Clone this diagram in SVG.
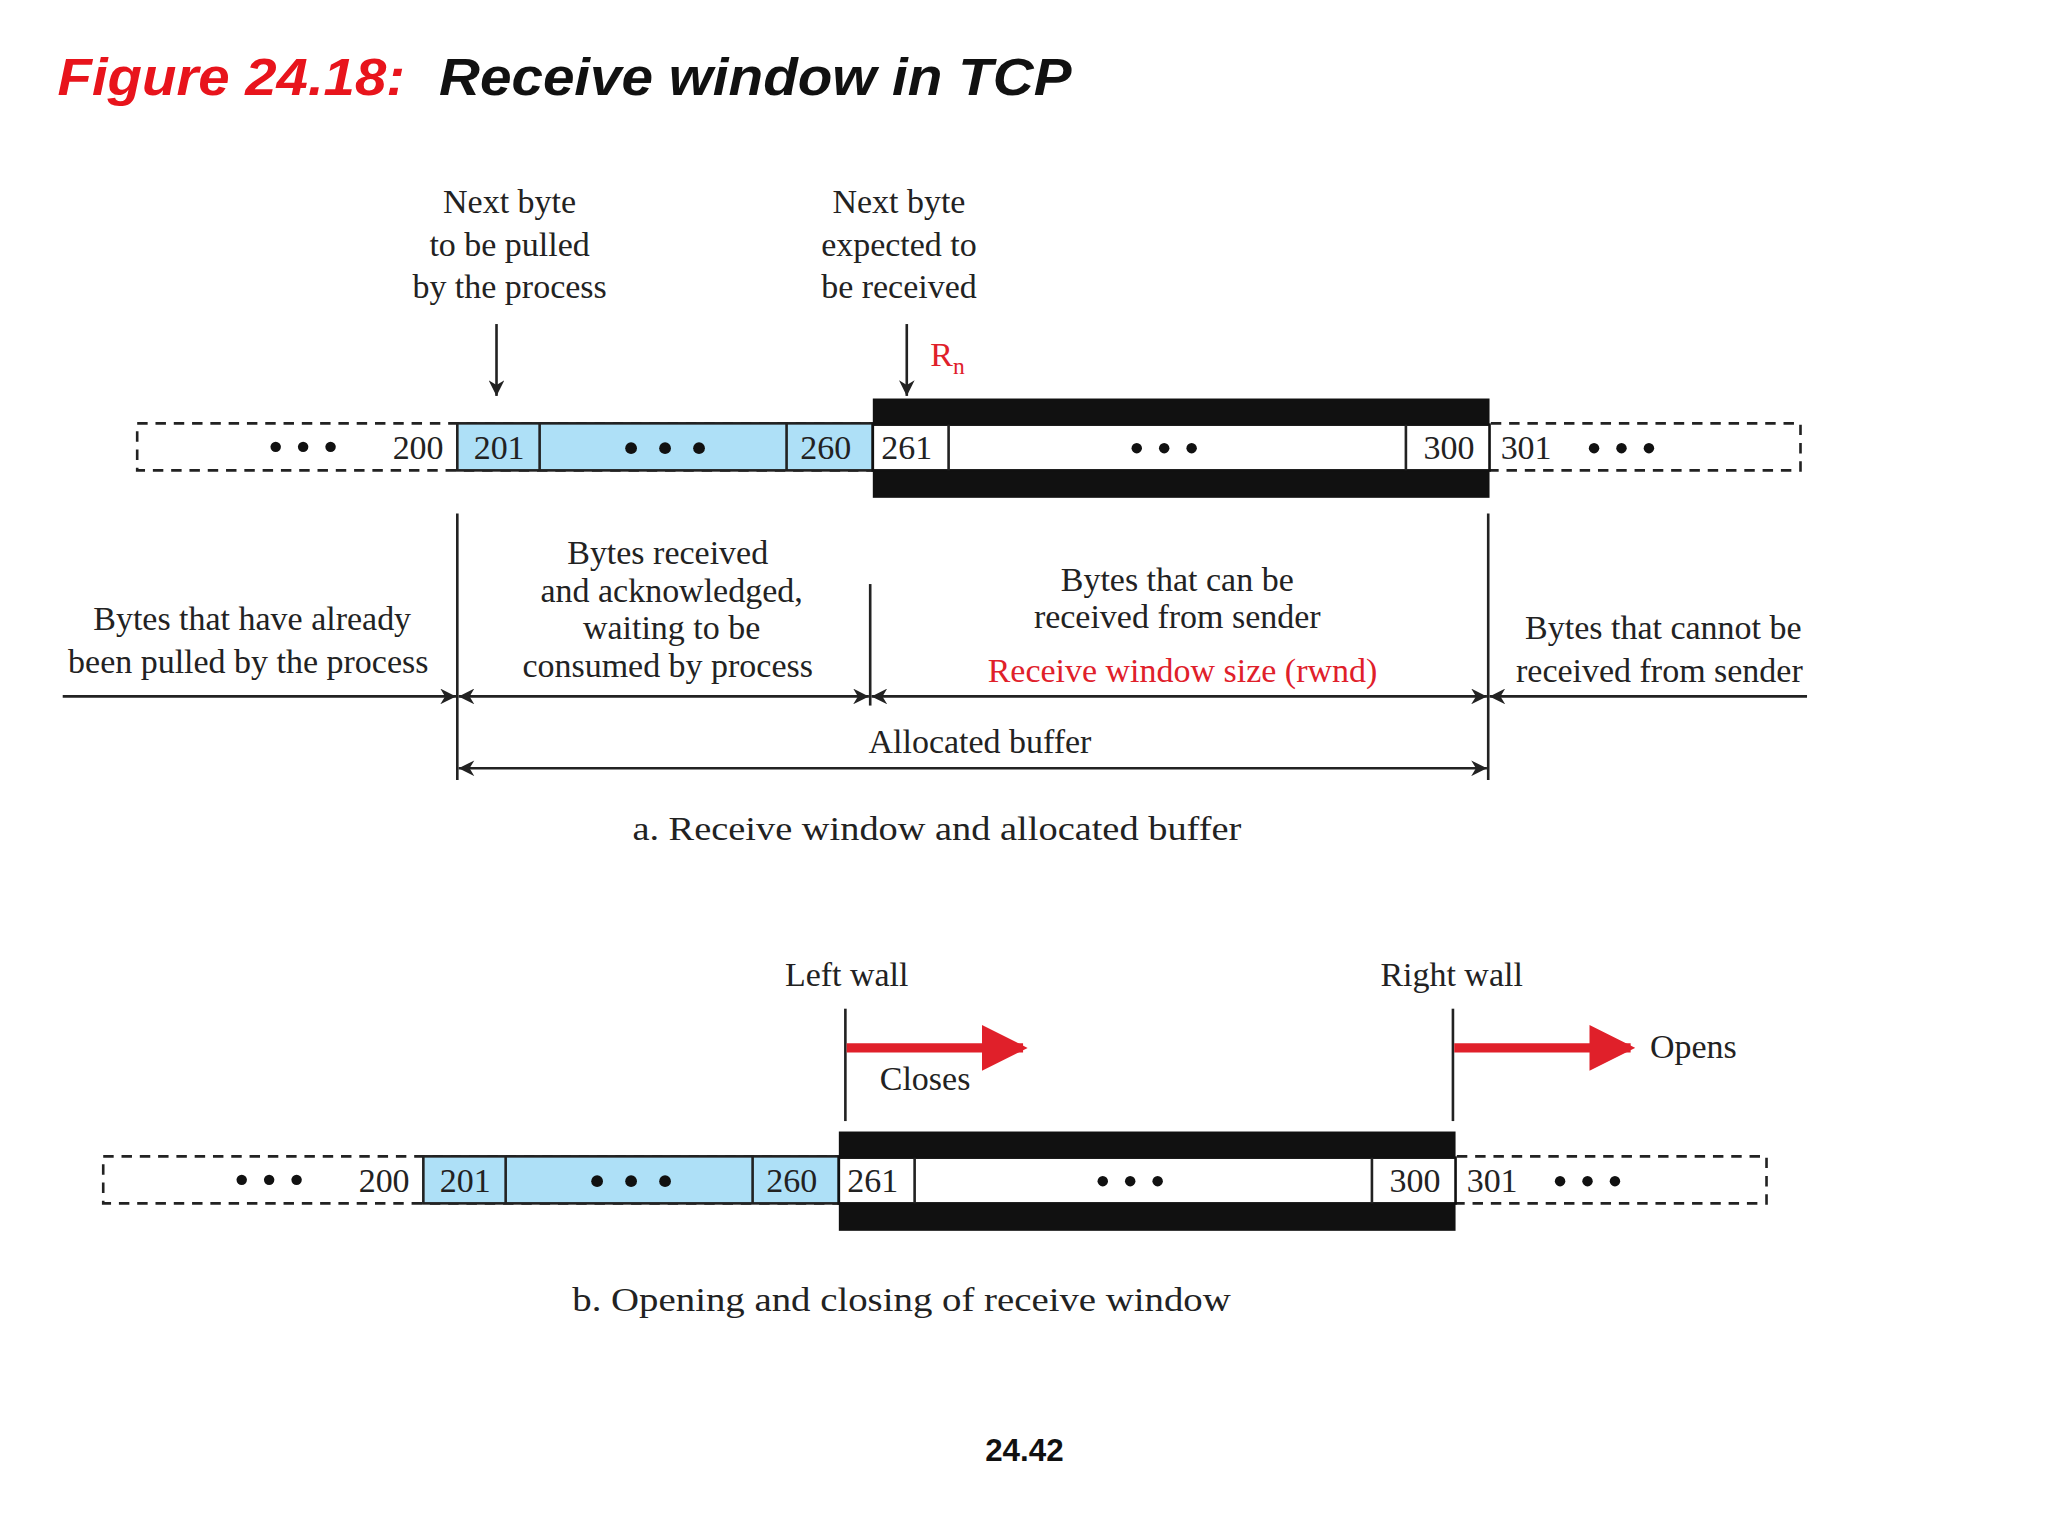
<svg xmlns="http://www.w3.org/2000/svg" xmlns:xlink="http://www.w3.org/1999/xlink" width="2048" height="1536" viewBox="0 0 2048 1536">
<style>
.t{font-family:"Liberation Serif","DejaVu Serif",serif;font-size:26px;fill:#222;text-anchor:middle}
.r{fill:#e0202a}
.ln{stroke:#222;stroke-width:2;fill:none}
.dash{stroke:#222;stroke-width:2;fill:none;stroke-dasharray:8 6}
</style>
<defs>
<marker id="ah" viewBox="0 0 10 10" refX="10" refY="5" markerWidth="16" markerHeight="12" markerUnits="userSpaceOnUse" orient="auto-start-reverse"><path d="M0,0 L10,5 L0,10 L3,5 z" fill="#222"/></marker>
<marker id="ra" viewBox="0 0 10 10" refX="9" refY="5" markerWidth="5" markerHeight="5" orient="auto"><path d="M0,0 L10,5 L0,10 z" fill="#e0202a"/></marker>
<g id="bar">
<rect x="105" y="324" width="1273" height="36" class="dash"/>
<rect x="350" y="324" width="318" height="36" fill="#aee0f7" stroke="#222" stroke-width="2"/>
<line x1="413" y1="324" x2="413" y2="360" class="ln"/>
<line x1="602" y1="324" x2="602" y2="360" class="ln"/>
<rect x="668" y="305" width="472" height="20" fill="#111"/>
<rect x="668" y="360" width="472" height="21" fill="#111"/>
<rect x="668" y="325" width="472" height="35" fill="#fff" stroke="#111" stroke-width="2"/>
<line x1="726" y1="325" x2="726" y2="360" class="ln"/>
<line x1="1076" y1="325" x2="1076" y2="360" class="ln"/>
<text class="t" x="320" y="351">200</text>
<text class="t" x="382" y="351">201</text>
<text class="t" x="632" y="351">260</text>
<text class="t" x="694" y="351">261</text>
<text class="t" x="1109" y="351">300</text>
<text class="t" x="1168" y="351">301</text>
<g fill="#111"><circle cx="211" cy="342" r="4"/><circle cx="232" cy="342" r="4"/><circle cx="253" cy="342" r="4"/>
<circle cx="483" cy="343" r="4.5"/><circle cx="509" cy="343" r="4.5"/><circle cx="535" cy="343" r="4.5"/>
<circle cx="870" cy="343" r="4"/><circle cx="891" cy="343" r="4"/><circle cx="912" cy="343" r="4"/>
<circle cx="1220" cy="343" r="4"/><circle cx="1241" cy="343" r="4"/><circle cx="1262" cy="343" r="4"/></g>
</g>
</defs>
<rect width="2048" height="1536" fill="#fff"/>
<g transform="scale(1.3066)">
<g id="title" font-family="'Liberation Sans',Arial,sans-serif" font-size="40" font-weight="bold" font-style="italic">
<text x="44" y="73" fill="#e8141c" textLength="266" lengthAdjust="spacingAndGlyphs">Figure 24.18:</text>
<text x="336" y="73" fill="#111" textLength="484" lengthAdjust="spacingAndGlyphs">Receive window in TCP</text>
</g>
<g id="part-a">
<use xlink:href="#bar" href="#bar"/>
<text class="t"><tspan x="390" y="163">Next byte</tspan><tspan x="390" y="196">to be pulled</tspan><tspan x="390" y="228">by the process</tspan></text>
<text class="t"><tspan x="688" y="163">Next byte</tspan><tspan x="688" y="196">expected to</tspan><tspan x="688" y="228">be received</tspan></text>
<text class="t r" x="712" y="280" style="text-anchor:start">R<tspan font-size="18" dy="6">n</tspan></text>
<text class="t"><tspan x="193" y="482">Bytes that have already</tspan><tspan x="190" y="515">been pulled by the process</tspan></text>
<text class="t"><tspan x="511" y="432">Bytes received</tspan><tspan x="514" y="461">and  acknowledged,</tspan><tspan x="514" y="489">waiting to be</tspan><tspan x="511" y="518">consumed by process</tspan></text>
<text class="t"><tspan x="901" y="452">Bytes that can be</tspan><tspan x="901" y="481">received from sender</tspan></text>
<text class="t r" x="905" y="522">Receive window size (rwnd)</text>
<text class="t"><tspan x="1273" y="489">Bytes that cannot be</tspan><tspan x="1270" y="522">received from sender</tspan></text>
<text class="t" x="750" y="576">Allocated buffer</text>
<text class="t" x="717" y="643" font-size="28" textLength="466" lengthAdjust="spacingAndGlyphs">a. Receive window and allocated buffer</text>
</g>
<g id="connectors">
<line x1="380" y1="248" x2="380" y2="303" class="ln" marker-end="url(#ah)"/>
<line x1="694" y1="248" x2="694" y2="303" class="ln" marker-end="url(#ah)"/>
<line x1="350" y1="393" x2="350" y2="597" class="ln"/>
<line x1="666" y1="447" x2="666" y2="540" class="ln"/>
<line x1="1139" y1="393" x2="1139" y2="597" class="ln"/>
<line x1="48" y1="533" x2="349" y2="533" class="ln" marker-end="url(#ah)"/>
<line x1="351" y1="533" x2="665" y2="533" class="ln" marker-start="url(#ah)" marker-end="url(#ah)"/>
<line x1="667" y1="533" x2="1138" y2="533" class="ln" marker-start="url(#ah)" marker-end="url(#ah)"/>
<line x1="1140" y1="533" x2="1383" y2="533" class="ln" marker-start="url(#ah)"/>
<line x1="351" y1="588" x2="1138" y2="588" class="ln" marker-start="url(#ah)" marker-end="url(#ah)"/>
<line x1="647" y1="772" x2="647" y2="858" class="ln"/>
<line x1="1112" y1="772" x2="1112" y2="858" class="ln"/>
<line x1="648" y1="802" x2="783" y2="802" stroke="#e0202a" stroke-width="7" marker-end="url(#ra)"/>
<line x1="1113" y1="802" x2="1248" y2="802" stroke="#e0202a" stroke-width="7" marker-end="url(#ra)"/>
</g>
<g id="part-b">
<use xlink:href="#bar" href="#bar" transform="translate(-26,561)"/>
<text class="t" x="648" y="755">Left wall</text>
<text class="t" x="1111" y="755">Right wall</text>
<text class="t" x="708" y="834">Closes</text>
<text class="t" x="1296" y="810">Opens</text>
<text class="t" x="690" y="1003" font-size="28" textLength="504" lengthAdjust="spacingAndGlyphs">b. Opening and  closing of receive window</text>
</g>
<text id="page" x="784" y="1118" font-family="'Liberation Sans',Arial,sans-serif" font-size="24" font-weight="bold" text-anchor="middle" fill="#111">24.42</text>
</g>
</svg>
